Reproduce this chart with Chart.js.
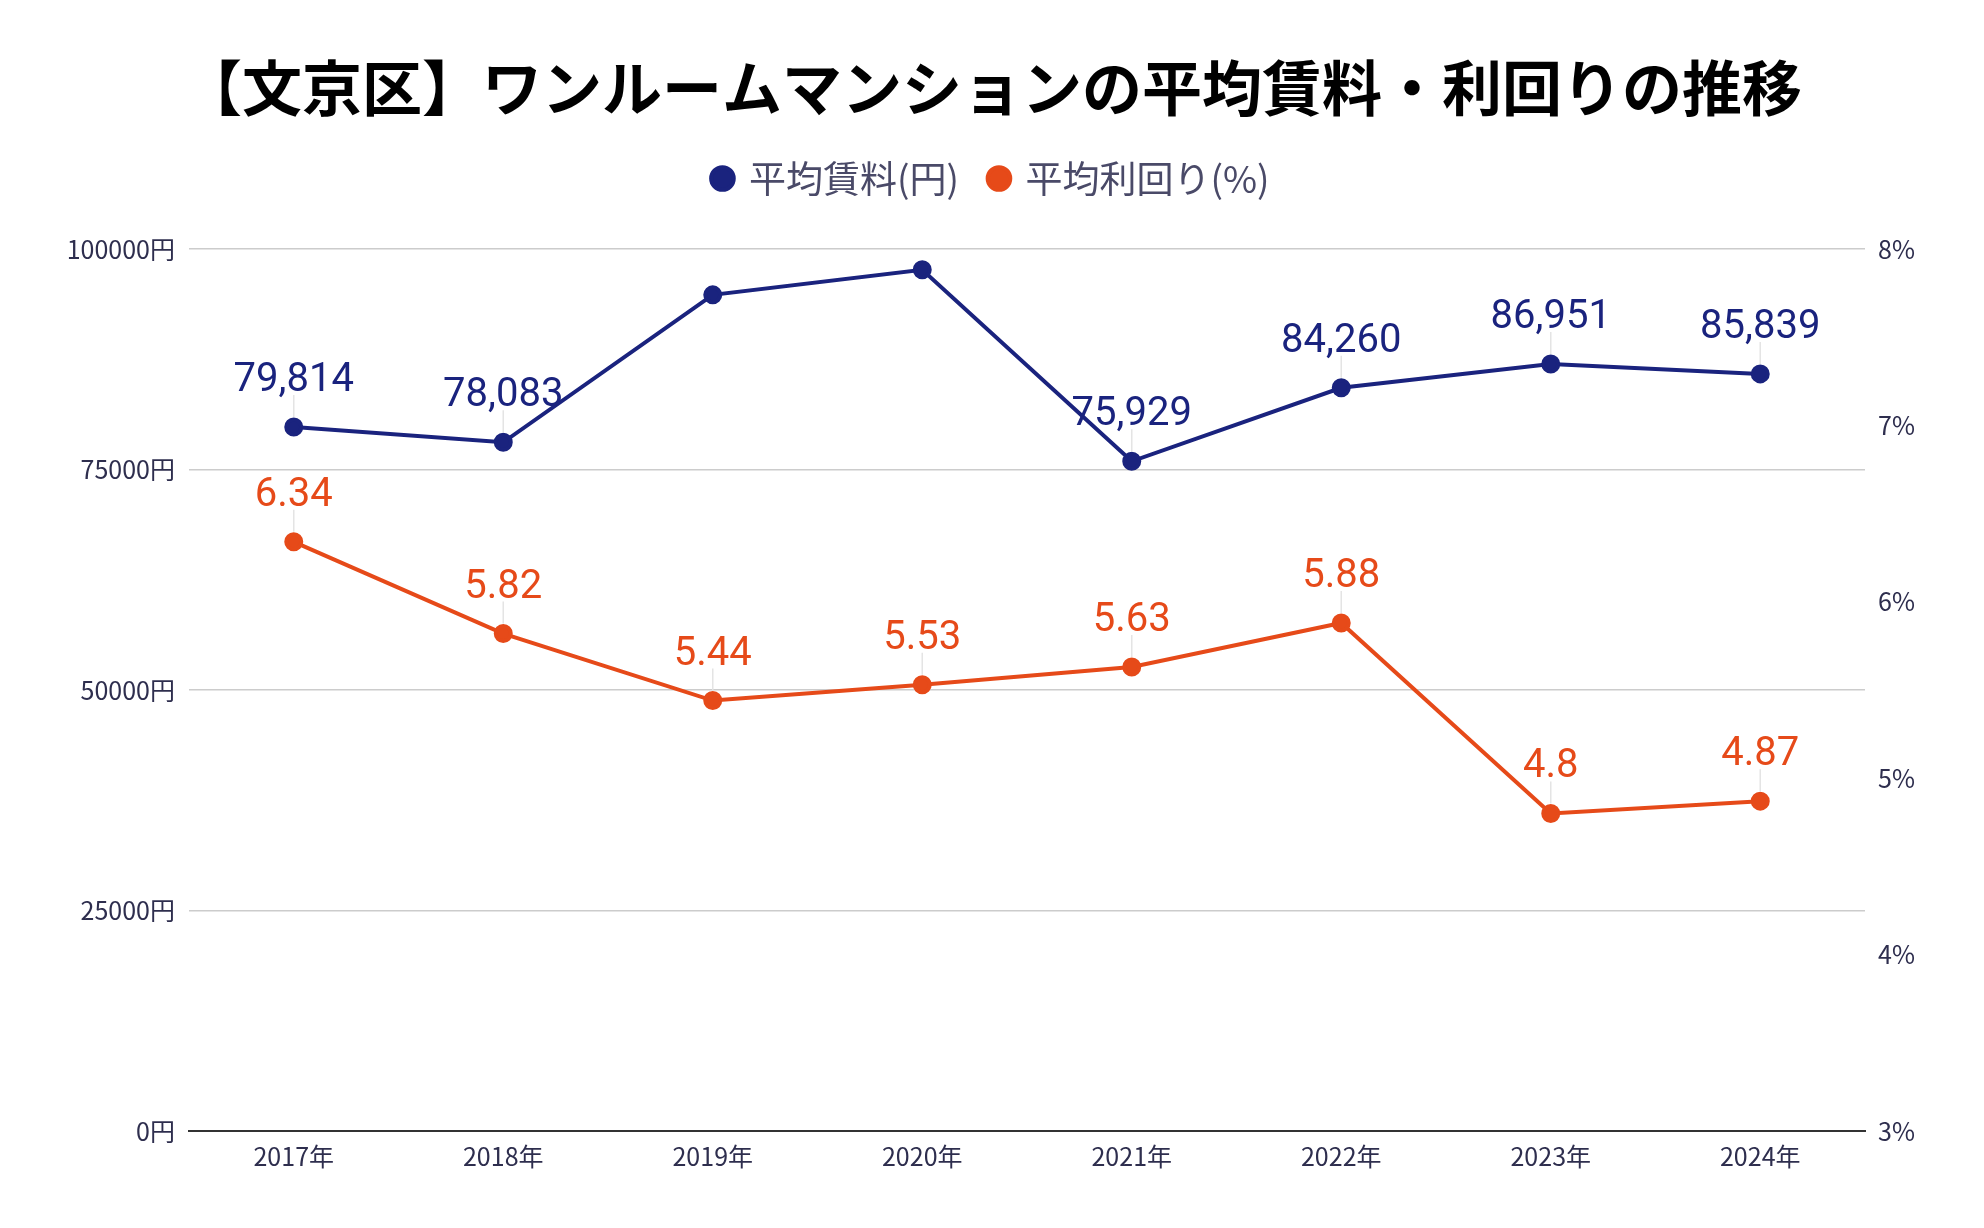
<!DOCTYPE html>
<html lang="ja">
<head>
<meta charset="utf-8">
<title>文京区 ワンルームマンション</title>
<script src="https://cdn.jsdelivr.net/npm/chart.js@4.4.1/dist/chart.umd.min.js"></script>
<style>
  html, body { margin: 0; padding: 0; background: #fff; }
  #wrap { width: 1984px; height: 1228px; }
</style>
</head>
<body>
<div id="wrap"><canvas id="chart" width="1984" height="1228"></canvas></div>
<script>
const years = ["2017年", "2018年", "2019年", "2020年", "2021年", "2022年", "2023年", "2024年"];
const rent = [79814, 78083, 94800, 97650, 75929, 84260, 86951, 85839];
const yieldPct = [6.34, 5.82, 5.44, 5.53, 5.63, 5.88, 4.8, 4.87];

const navy = "#1a237e";
const orange = "#e64a19";
const jpFont = "'Noto Sans CJK JP', 'Noto Sans', sans-serif";
const numFont = "Roboto, 'Noto Sans CJK JP', sans-serif";

// labels above points with a thin leader line
const pointLabels = {
  id: "pointLabels",
  afterDatasetsDraw(chart) {
    const ctx = chart.ctx;
    const area = chart.chartArea;
    chart.data.datasets.forEach((ds, i) => {
      const meta = chart.getDatasetMeta(i);
      meta.data.forEach((pt, j) => {
        const v = ds.data[j];
        const text = i === 0 ? v.toLocaleString("en-US") : String(v);
        const base = pt.y - 36;
        if (base - 29 < area.top) return; // would run out of the plot
        ctx.save();
        ctx.strokeStyle = "#e4e4e4";
        ctx.lineWidth = 1.5;
        ctx.beginPath();
        ctx.moveTo(pt.x, pt.y - 10);
        ctx.lineTo(pt.x, pt.y - 32);
        ctx.stroke();
        ctx.font = "40px " + numFont;
        ctx.fillStyle = ds.borderColor;
        ctx.textAlign = "center";
        ctx.textBaseline = "alphabetic";
        ctx.fillText(text, pt.x, base);
        ctx.restore();
      });
    });
  }
};

const legendGap = {
  id: "legendGap",
  beforeInit(chart) {
    const fit = chart.legend.fit;
    chart.legend.fit = function () {
      fit.bind(chart.legend)();
      this.height += 42;
    };
  }
};

new Chart(document.getElementById("chart"), {
  type: "line",
  data: {
    labels: years,
    datasets: [
      {
        label: "平均賃料(円)",
        data: rent,
        yAxisID: "y",
        borderColor: navy,
        backgroundColor: navy,
        borderWidth: 4,
        pointRadius: 7.5,
        pointHoverRadius: 7.5,
        tension: 0
      },
      {
        label: "平均利回り(%)",
        data: yieldPct,
        yAxisID: "y1",
        borderColor: orange,
        backgroundColor: orange,
        borderWidth: 4,
        pointRadius: 7.5,
        pointHoverRadius: 7.5,
        tension: 0
      }
    ]
  },
  options: {
    responsive: false,
    devicePixelRatio: 1,
    animation: false,
    layout: { padding: 0 },
    plugins: {
      title: {
        display: true,
        text: "【文京区】ワンルームマンションの平均賃料・利回りの推移",
        color: "#000",
        font: { family: jpFont, size: 60, weight: "bold", lineHeight: 1.2 },
        padding: { top: 52, bottom: 4 }
      },
      legend: {
        labels: {
          usePointStyle: true,
          pointStyle: "circle",
          boxWidth: 16,
          boxHeight: 16,
          padding: 32,
          color: "#4a4a68",
          font: { family: jpFont, size: 37 }
        }
      },
      tooltip: { enabled: false }
    },
    scales: {
      x: {
        offset: true,
        grid: { display: false, drawTicks: false },
        border: { display: true, color: "#333", width: 2 },
        ticks: { color: "#2e2e4e", padding: 10, font: { family: jpFont, size: 25 } },
        afterFit(scale) { scale.height = 97; }
      },
      y: {
        position: "left",
        min: 0,
        max: 100000,
        ticks: {
          stepSize: 25000,
          padding: 14,
          color: "#2e2e4e",
          font: { family: jpFont, size: 25 },
          callback: (v) => v + "円"
        },
        grid: { color: "#cccccc", lineWidth: 1.5, drawTicks: false },
        border: { display: false },
        afterFit(scale) { scale.width = 189; }
      },
      y1: {
        position: "right",
        min: 3,
        max: 8,
        ticks: {
          stepSize: 1,
          padding: 13,
          color: "#2e2e4e",
          font: { family: jpFont, size: 25 },
          callback: (v) => v + "%"
        },
        grid: { display: false, drawTicks: false },
        border: { display: false },
        afterFit(scale) { scale.width = 119; }
      }
    }
  },
  plugins: [pointLabels, legendGap]
});
</script>
</body>
</html>
